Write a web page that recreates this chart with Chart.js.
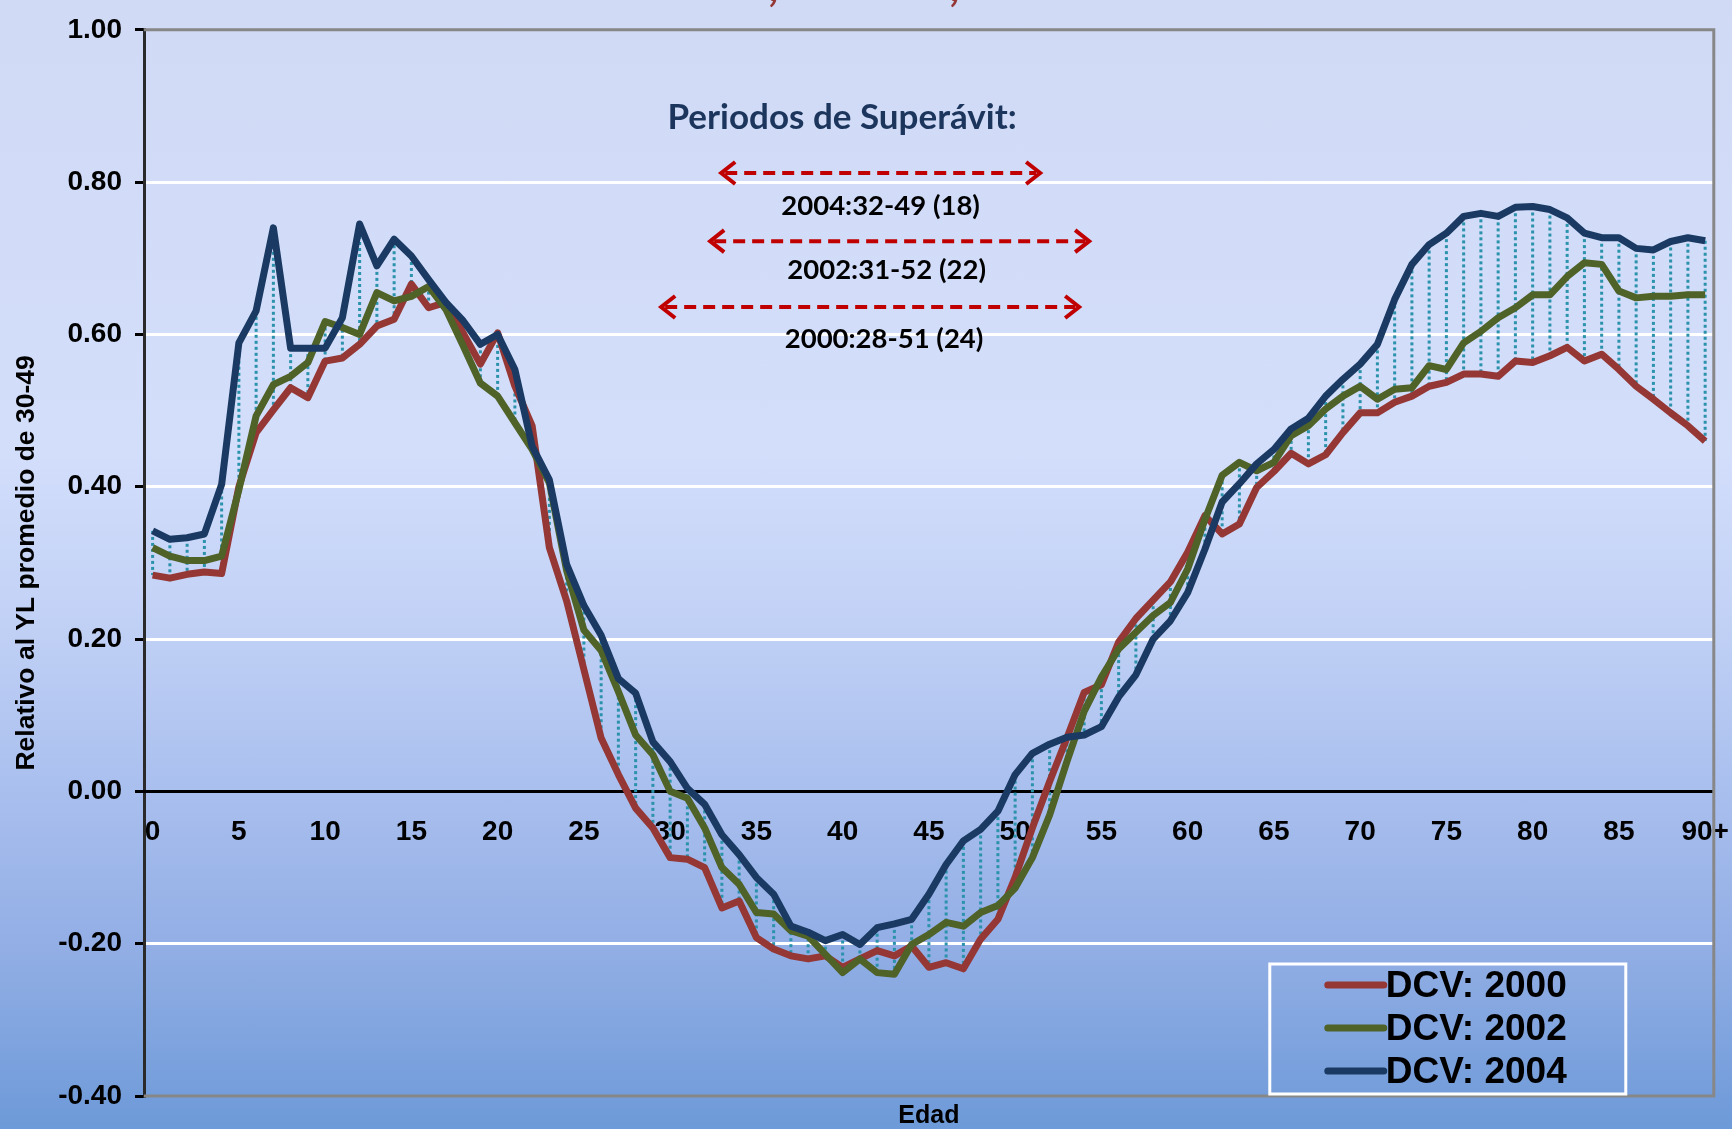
<!DOCTYPE html>
<html>
<head>
<meta charset="utf-8">
<script src="https://cdn.jsdelivr.net/npm/chart.js@4.4.1/dist/chart.umd.min.js"></script>
<style>
  html, body { margin: 0; padding: 0; }
  body {
    width: 1732px; height: 1129px; overflow: hidden;
    background: linear-gradient(to bottom, #d0daf5 0%, #d3defb 40%, #c0d0f5 56%, #a9bfee 70%, #92aee5 84%, #6d9ad8 100%);
  }
</style>
</head>
<body>
<canvas id="chart" width="1732" height="1129"></canvas>
<script>
// ages 0..89 plus the open group
const ages = Array.from({ length: 90 }, (_, i) => String(i)).concat(["90+"]);
const shownTicks = ["0", "5", "10", "15", "20", "25", "30", "35", "40", "45",
  "50", "55", "60", "65", "70", "75", "80", "85", "90+"];
const yTicks = [-0.4, -0.2, 0, 0.2, 0.4, 0.6, 0.8, 1.0];

const dcv2000 = [
  0.284, 0.280, 0.285, 0.288, 0.286, 0.400, 0.471, 0.501, 0.530, 0.517,
  0.565, 0.569, 0.587, 0.611, 0.620, 0.666, 0.635, 0.642, 0.602, 0.561,
  0.602, 0.532, 0.480, 0.320, 0.250, 0.160, 0.070, 0.022, -0.022, -0.048,
  -0.087, -0.089, -0.100, -0.153, -0.144, -0.192, -0.207, -0.216, -0.220, -0.216,
  -0.231, -0.220, -0.209, -0.216, -0.203, -0.231, -0.225, -0.233, -0.194, -0.168,
  -0.113, -0.048, 0.013, 0.070, 0.130, 0.140, 0.196, 0.227, 0.251, 0.275,
  0.314, 0.362, 0.338, 0.351, 0.399, 0.420, 0.444, 0.430, 0.442, 0.471,
  0.497, 0.497, 0.511, 0.519, 0.532, 0.537, 0.548, 0.548, 0.545, 0.565,
  0.563, 0.572, 0.583, 0.565, 0.574, 0.554, 0.532, 0.515, 0.497, 0.480,
  0.460
];
const dcv2002 = [
  0.320, 0.309, 0.303, 0.303, 0.309, 0.396, 0.493, 0.534, 0.545, 0.563,
  0.617, 0.609, 0.600, 0.655, 0.644, 0.650, 0.663, 0.633, 0.585, 0.536,
  0.519, 0.484, 0.449, 0.405, 0.290, 0.212, 0.185, 0.131, 0.074, 0.048,
  0.000, -0.009, -0.048, -0.100, -0.122, -0.159, -0.161, -0.183, -0.190, -0.214,
  -0.238, -0.220, -0.238, -0.240, -0.201, -0.188, -0.172, -0.177, -0.159, -0.150,
  -0.127, -0.087, -0.031, 0.039, 0.105, 0.150, 0.187, 0.209, 0.231, 0.248,
  0.292, 0.357, 0.415, 0.432, 0.421, 0.432, 0.467, 0.480, 0.502, 0.519,
  0.532, 0.515, 0.528, 0.530, 0.559, 0.554, 0.589, 0.604, 0.622, 0.635,
  0.652, 0.652, 0.676, 0.694, 0.692, 0.657, 0.648, 0.650, 0.650, 0.652,
  0.652
];
const dcv2004 = [
  0.342, 0.331, 0.333, 0.338, 0.403, 0.589, 0.631, 0.740, 0.582, 0.582,
  0.582, 0.622, 0.745, 0.690, 0.725, 0.703, 0.672, 0.642, 0.618, 0.587,
  0.600, 0.554, 0.453, 0.409, 0.298, 0.244, 0.205, 0.148, 0.129, 0.065,
  0.039, 0.004, -0.017, -0.057, -0.083, -0.113, -0.135, -0.177, -0.185, -0.196,
  -0.188, -0.201, -0.179, -0.174, -0.168, -0.135, -0.096, -0.065, -0.050, -0.026,
  0.022, 0.050, 0.062, 0.071, 0.074, 0.085, 0.124, 0.153, 0.200, 0.224,
  0.261, 0.318, 0.380, 0.404, 0.430, 0.449, 0.476, 0.490, 0.519, 0.541,
  0.561, 0.587, 0.646, 0.692, 0.718, 0.733, 0.755, 0.759, 0.755, 0.767,
  0.768, 0.764, 0.753, 0.733, 0.727, 0.727, 0.713, 0.711, 0.722, 0.727,
  0.723
];

// surplus periods shown as arrows (age range, height) with their captions
const periods = [
  { from: 32.96, to: 51.45, at: 0.812, text: "2004:32-49 (18)", tx: 42.2, ty: 0.768 },
  { from: 32.32, to: 54.29, at: 0.7225, text: "2002:31-52 (22)", tx: 42.55, ty: 0.685 },
  { from: 29.48, to: 53.71, at: 0.636, text: "2000:28-51 (24)", tx: 42.4, ty: 0.594 },
];

const ARIAL = "'Liberation Sans', Arial, sans-serif";

function arrowHead(ctx, x, y, dir) {
  ctx.beginPath();
  ctx.moveTo(x - dir * 14, y - 11);
  ctx.lineTo(x, y);
  ctx.lineTo(x - dir * 14, y + 11);
  ctx.stroke();
}

const decor = {
  id: "decor",
  beforeDatasetsDraw(chart) {
    const { ctx, chartArea: a, scales: { x, y } } = chart;
    ctx.save();
    // frame of the plot (left side is the y axis)
    ctx.strokeStyle = "#878787";
    ctx.lineWidth = 3;
    ctx.beginPath();
    ctx.moveTo(a.left, a.top);
    ctx.lineTo(a.right, a.top);
    ctx.lineTo(a.right, a.bottom);
    ctx.lineTo(a.left, a.bottom);
    ctx.stroke();

    // high-low lines between the three series
    ctx.strokeStyle = "#2a92ab";
    ctx.lineWidth = 3;
    ctx.setLineDash([3, 3]);
    ages.forEach((_, i) => {
      const vals = chart.data.datasets.map(d => d.data[i]);
      const px = x.getPixelForValue(i);
      ctx.beginPath();
      ctx.moveTo(px, y.getPixelForValue(Math.max(...vals)));
      ctx.lineTo(px, y.getPixelForValue(Math.min(...vals)));
      ctx.stroke();
    });
    ctx.restore();
  },
  afterDraw(chart) {
    const { ctx, chartArea: a, scales: { x, y } } = chart;
    ctx.save();

    // bits of the cropped title
    ctx.fillStyle = "#953735";
    ctx.font = "bold 44px Lato";
    ctx.textBaseline = "alphabetic";
    ctx.fillText(",", 768, 1);
    ctx.fillText(",", 949, 1);

    // "Periodos de Superávit:"
    ctx.fillStyle = "#1b355c";
    ctx.font = "bold 35px Lato";
    ctx.textAlign = "center";
    ctx.textBaseline = "middle";
    ctx.fillText("Periodos de Superávit:", x.getPixelForValue(39.97), y.getPixelForValue(0.884));

    periods.forEach(p => {
      const x1 = x.getPixelForValue(p.from);
      const x2 = x.getPixelForValue(p.to);
      const py = y.getPixelForValue(p.at);
      ctx.strokeStyle = "#c00000";
      ctx.lineWidth = 4;
      ctx.setLineDash([12, 7]);
      ctx.beginPath();
      ctx.moveTo(x1 + 4, py);
      ctx.lineTo(x2 - 4, py);
      ctx.stroke();
      ctx.setLineDash([]);
      arrowHead(ctx, x1, py, -1);
      arrowHead(ctx, x2, py, 1);

      ctx.fillStyle = "#000";
      ctx.font = "bold 27.5px Lato";
      ctx.fillText(p.text, x.getPixelForValue(p.tx), y.getPixelForValue(p.ty));
    });

    // legend box
    const bx = a.right - 444, by = a.bottom - 132, bw = 356, bh = 130;
    ctx.strokeStyle = "#ffffff";
    ctx.lineWidth = 3;
    ctx.strokeRect(bx, by, bw, bh);
    ctx.textAlign = "left";
    ctx.font = "bold 37px " + ARIAL;
    chart.data.datasets.forEach((d, i) => {
      const ry = by + 21 + i * 43;
      ctx.strokeStyle = d.borderColor;
      ctx.lineWidth = 7;
      ctx.lineCap = "round";
      ctx.beginPath();
      ctx.moveTo(bx + 58, ry);
      ctx.lineTo(bx + 114, ry);
      ctx.stroke();
      ctx.fillStyle = "#000";
      ctx.fillText(d.label, bx + 116, ry + 2);
    });

    // x axis title sits below the frame
    ctx.textAlign = "center";
    ctx.textBaseline = "alphabetic";
    ctx.font = "bold 25px " + ARIAL;
    ctx.fillText("Edad", (a.left + a.right) / 2, a.bottom + 27);
    ctx.restore();
  },
};

const line = (label, data, color, order) => ({
  label, data, order,
  borderColor: color,
  backgroundColor: color,
  borderWidth: 7,
  pointRadius: 0,
  tension: 0,
  borderJoinStyle: "round",
  fill: false,
});

new Chart(document.getElementById("chart"), {
  type: "line",
  data: {
    labels: ages,
    datasets: [
      line("DCV: 2000", dcv2000, "#953735", 2),
      line("DCV: 2002", dcv2002, "#4f6228", 1),
      line("DCV: 2004", dcv2004, "#1a3a63", 0),
    ],
  },
  options: {
    responsive: false,
    animation: false,
    devicePixelRatio: 1,
    layout: { padding: { top: 26, right: 18, bottom: 33, left: 0 } },
    plugins: { legend: { display: false }, tooltip: { enabled: false } },
    scales: {
      y: {
        min: -0.4,
        max: 1.0,
        afterBuildTicks: s => { s.ticks = yTicks.map(v => ({ value: v })); },
        afterFit: s => { s.width = 144; },
        ticks: {
          padding: 13,
          color: "#000",
          font: { family: ARIAL, size: 28, weight: "bold" },
          callback: v => Number(v).toFixed(2),
        },
        grid: {
          color: c => (c.tick && (c.tick.value === 1 || c.tick.value === -0.4)) ? "rgba(0,0,0,0)" : "#ffffff",
          lineWidth: 3,
          tickColor: "#000",
          tickLength: 9,
        },
        border: { color: "#2a2a2a", width: 3 },
        title: {
          display: true,
          text: "Relativo al YL promedio de 30-49",
          color: "#000",
          font: { family: ARIAL, size: 26.5, weight: "bold" },
          padding: { top: 11, bottom: 0 },
        },
      },
      x: {
        type: "category",
        offset: true,
        position: { y: 0 },
        grid: {
          display: true,
          drawOnChartArea: false,
          drawTicks: true,
          tickLength: 21,
          color: "rgba(0,0,0,0)",
          tickColor: "rgba(0,0,0,0)",
        },
        border: { color: "#000", width: 3 },
        ticks: {
          autoSkip: false,
          maxRotation: 0,
          padding: 3,
          color: "#000",
          font: { family: ARIAL, size: 28, weight: "bold" },
          callback: function (v, i) {
            const lab = this.getLabelForValue(v);
            return shownTicks.includes(lab) ? lab : "";
          },
        },
      },
    },
  },
  plugins: [decor],
});
</script>
</body>
</html>
